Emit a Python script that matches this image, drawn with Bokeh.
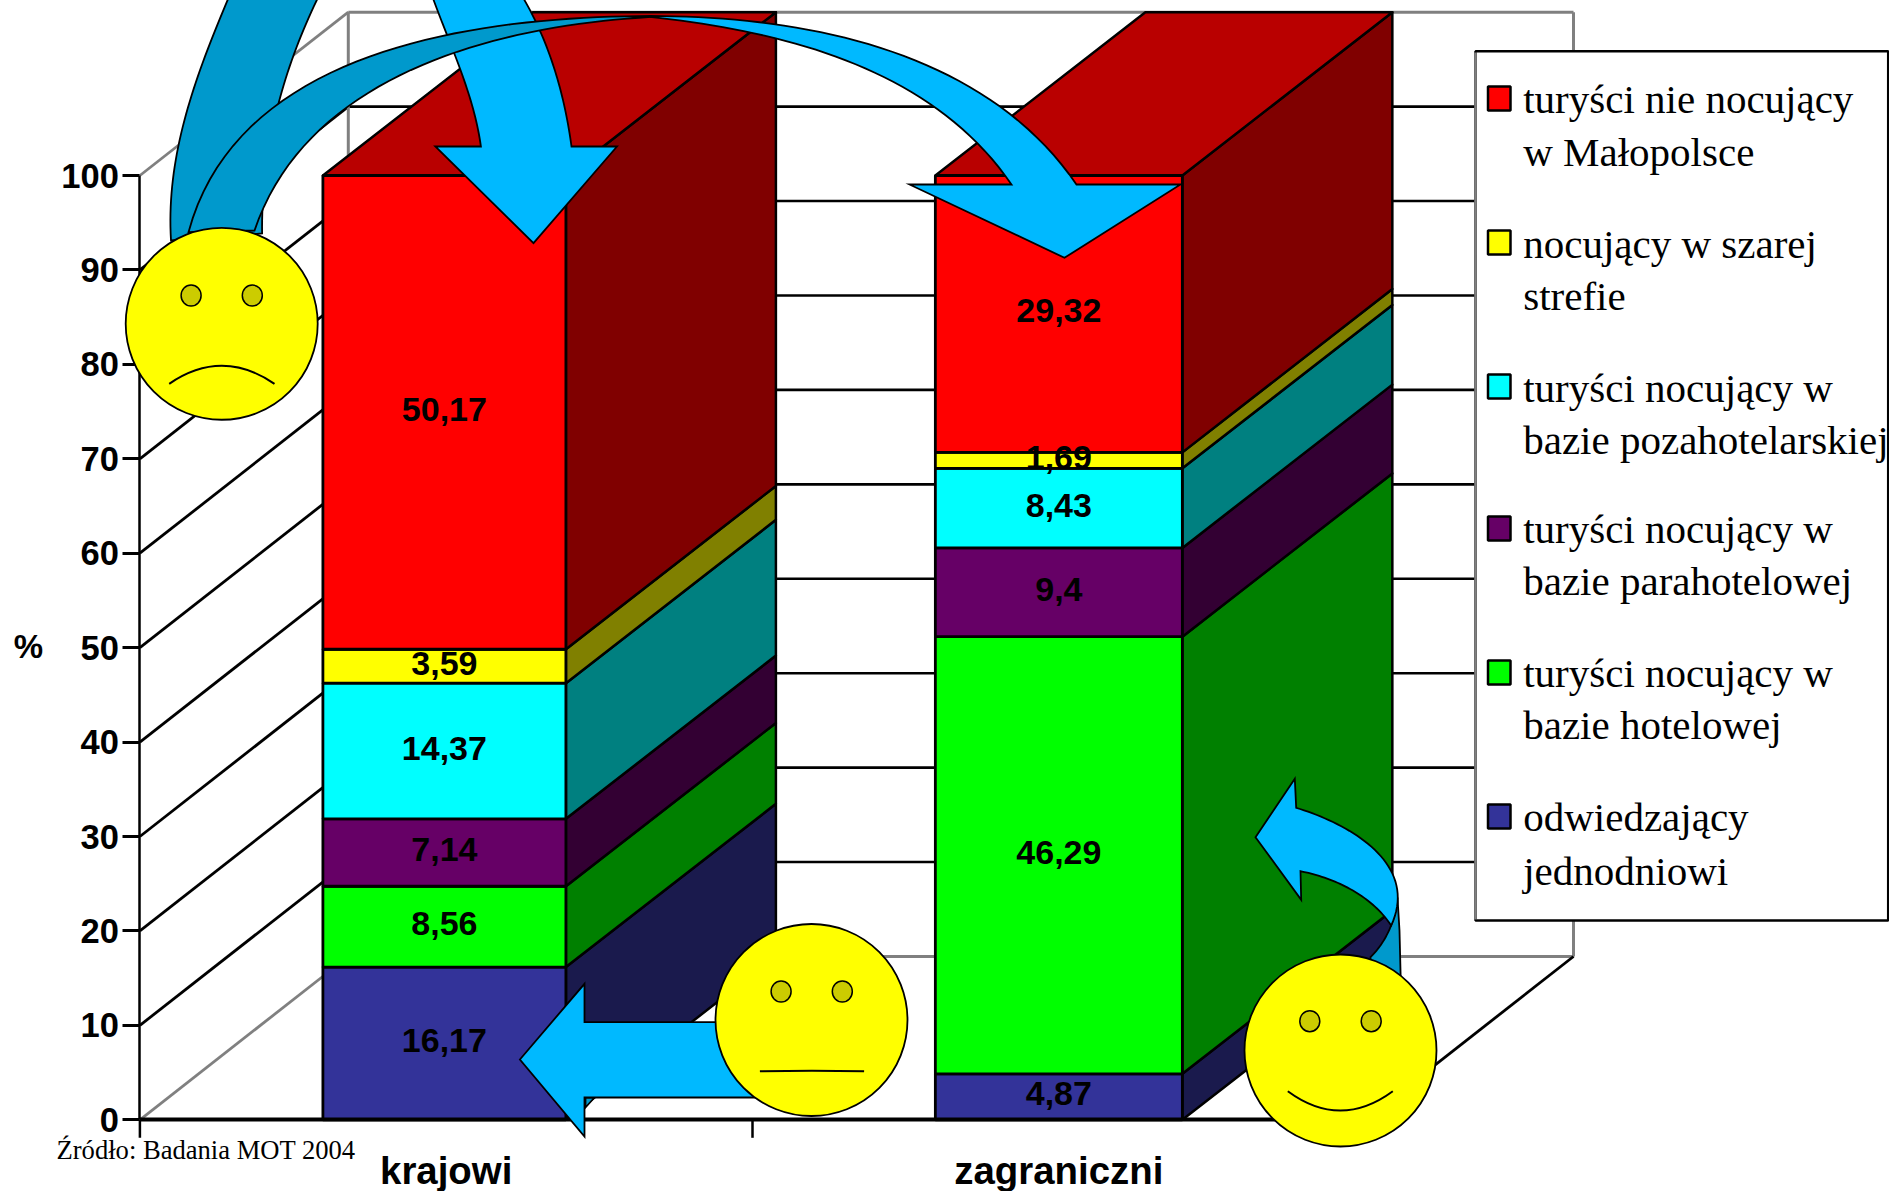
from bokeh.plotting import figure
from bokeh.embed import file_html
from bokeh.resources import INLINE
from bokeh.models import Range1d, LinearAxis, FixedTicker, NumeralTickFormatter
from bokeh.core.properties import value
import numpy as np

# ---------- data ----------
categories = ["krajowi", "zagraniczni"]
series_names = ["odwiedzający jednodniowi", "turyści nocujący w bazie hotelowej",
                "turyści nocujący w bazie parahotelowej", "turyści nocujący w bazie pozahotelarskiej",
                "nocujący w szarej strefie", "turyści nie nocujący w Małopolsce"]
krajowi = [16.17, 8.56, 7.14, 14.37, 3.59, 50.17]
zagraniczni = [4.87, 46.29, 9.4, 8.43, 1.69, 29.32]
labels_krajowi = ["16,17", "8,56", "7,14", "14,37", "3,59", "50,17"]
labels_zagraniczni = ["4,87", "46,29", "9,4", "8,43", "1,69", "29,32"]
front_colors = ["#333399", "#00FF00", "#660066", "#00FFFF", "#FFFF00", "#FF0000"]
side_colors = ["#1A1A4D", "#008000", "#330033", "#008080", "#808000", "#800000"]
top_color = "#B90000"
y_ticks = [0, 10, 20, 30, 40, 50, 60, 70, 80, 90, 100]
legend_lines = [
    ("turyści nie nocujący", "w Małopolsce"),
    ("nocujący w szarej", "strefie"),
    ("turyści nocujący w", "bazie pozahotelarskiej"),
    ("turyści nocujący w", "bazie parahotelowej"),
    ("turyści nocujący w", "bazie hotelowej"),
    ("odwiedzający", "jednodniowi"),
]
legend_colors = ["#FF0000", "#FFFF00", "#00FFFF", "#660066", "#00FF00", "#333399"]
source_text = "Źródło: Badania MOT 2004"

# ---------- layout ----------
W, H = 1889, 1191
X0, Y0, Y100 = 139.4, 1119.3, 175.0
CAT = 612.6
PY = (Y0 - Y100) / 100
DX, DY = 210 / CAT, 163.3 / PY       # depth of the oblique projection in data units
BACK_DX, BACK_DY = 208.4 / CAT, 163.3 / PY
centres = [(443.9 - X0) / CAT, (1058.35 - X0) / CAT]
bar_widths = [243 / CAT, 247 / CAT]

p = figure(width=W, height=H, output_backend="svg", toolbar_location=None,
           x_range=Range1d(-X0 / CAT, (W - X0) / CAT),
           y_range=Range1d(-(H - Y0) / PY, Y0 / PY),
           min_border=0, min_border_left=0, min_border_right=0, min_border_top=0, min_border_bottom=0,
           background_fill_color="white", border_fill_color="white", outline_line_color=None)
p.styles = {"position": "absolute", "left": "0px", "top": "0px"}
p.grid.visible = False
p.extra_x_ranges["px"] = Range1d(0, W)
p.extra_y_ranges["px"] = Range1d(H, 0)
PX = dict(x_range_name="px", y_range_name="px")

SANS = value("Liberation Sans")
SERIF = value("Liberation Serif")

# ---------- walls ----------
GRAY = "#808080"
for v in y_ticks:
    col = GRAY if v in (0, 100) else "black"
    p.line([0, BACK_DX], [v, v + BACK_DY], line_color=col, line_width=2.8)
    if v not in (0, 100):
        p.line([BACK_DX, 2 + BACK_DX], [v + BACK_DY] * 2, line_color=col, line_width=2.6)
p.line([BACK_DX, 2 + BACK_DX], [100 + BACK_DY] * 2, line_color=GRAY, line_width=3)
p.line([BACK_DX, 2 + BACK_DX], [BACK_DY] * 2, line_color=GRAY, line_width=3)
p.line([BACK_DX, BACK_DX], [BACK_DY, 100 + BACK_DY], line_color=GRAY, line_width=3)
p.line([2 + BACK_DX] * 2, [BACK_DY, 100 + BACK_DY], line_color=GRAY, line_width=3)
p.line([2, 2 + BACK_DX], [0, BACK_DY], line_color="black", line_width=2.8)

# ---------- bars ----------
for c, bw, vals, labs in zip(centres, bar_widths, [krajowi, zagraniczni], [labels_krajowi, labels_zagraniczni]):
    l, r = c - bw / 2, c + bw / 2
    tops = np.cumsum(vals)
    bots = tops - np.array(vals)
    p.patches([[r, r + DX, r + DX, r] for _ in vals],
              [[b, b + DY, t + DY, t] for b, t in zip(bots, tops)],
              fill_color=side_colors, line_color="black", line_width=2.5, line_join="round")
    t = tops[-1]
    p.patch([l, l + DX, r + DX, r], [t, t + DY, t + DY, t], fill_color=top_color,
            line_color="black", line_width=2.5, line_join="round")
    p.quad(left=l, right=r, bottom=bots, top=tops, fill_color=front_colors,
           line_color="black", line_width=2.8)
    p.text([c] * len(vals), (tops + bots) / 2, text=labs, text_font=SANS, text_font_style="bold",
           text_font_size="34px", text_align="center", text_baseline="middle", text_color="black",
           y_offset=-3)

# ---------- axes ----------
ax = p.yaxis[0]
ax.fixed_location = 0
ax.ticker = FixedTicker(ticks=y_ticks)
ax.formatter = NumeralTickFormatter(format="0")
ax.axis_line_color = "black"; ax.axis_line_width = 2.5
ax.major_tick_line_color = "black"; ax.major_tick_line_width = 3
ax.major_tick_in = 0; ax.major_tick_out = 17
ax.minor_tick_line_color = None
ax.major_label_standoff = 4
ax.major_label_text_font = "Liberation Sans"
ax.major_label_text_font_style = "bold"
ax.major_label_text_font_size = "34.5px"
ax.major_label_text_color = "black"
ax.bounds = (0, 100)

bx = p.xaxis[0]
bx.fixed_location = 0
bx.ticker = FixedTicker(ticks=[0.5, 1.5])
bx.major_label_overrides = {0.5: categories[0], 1.5: categories[1]}
bx.bounds = (0, 2)
bx.axis_line_color = "black"; bx.axis_line_width = 4
bx.major_tick_line_color = None
bx.major_tick_out = 0; bx.major_tick_in = 0
bx.minor_tick_line_color = None
bx.major_label_standoff = 29
bx.major_label_text_font = "Liberation Sans"
bx.major_label_text_font_style = "bold"
bx.major_label_text_font_size = "38.4px"
bx.major_label_text_color = "black"
# category separators on the axis
p.segment([0, 1, 2], [0, 0, 0], [0, 1, 2], [-18 / PY] * 3, line_color="black", line_width=2.5)

p.text([28], [646], text=["%"], text_font=SANS, text_font_style="bold", text_font_size="33px",
       text_align="center", text_baseline="middle", text_color="black", **PX)


def base_text(x, y, txt, size, font):
    # the renderer seats an alphabetic baseline about a third of an em low
    p.text(x, [v - 0.32 * size for v in y], text=txt, text_font=font, text_font_size=f"{size}px",
           text_align="left", text_baseline="alphabetic", text_color="black", **PX)


base_text([56], [1158], [source_text], 26.6, SERIF)

# ---------- legend ----------
p.quad(left=[1475], right=[1887.7], top=[50.7], bottom=[920], fill_color="white", line_color="black",
       line_width=2.5, **PX)
p.line([1475, 1475], [52, 919], line_color=GRAY, line_width=2.5, **PX)
sq_tops = [86, 230, 374, 516, 660, 804]
first_base = [111.7, 256.7, 401, 541.7, 686, 830]
second_base = [165, 309, 453, 594, 738, 883.3]
for st, col, (a, b), b1, b2 in zip(sq_tops, legend_colors, legend_lines, first_base, second_base):
    p.quad(left=[1487.5], right=[1510], top=[st], bottom=[st + 24], fill_color=col, line_color="black",
           line_width=2.5, **PX)
    base_text([1522.7, 1522.7], [b1, b2], [a, b], 41, SERIF)

# ---------- arrows and faces (drawing decoration in page pixels) ----------
LIGHT, DARK = "#00B9FF", "#0099CC"


def curve(pts, n=40):
    """Smooth cubic through the measured outline points, with its ends held."""
    pts = np.array(pts, dtype=float)
    d = np.r_[0, np.cumsum(np.hypot(*np.diff(pts, axis=0).T))]
    u = d / d[-1]
    B1, B2 = 3 * u * (1 - u) ** 2, 3 * u ** 2 * (1 - u)
    B0, B3 = (1 - u) ** 3, u ** 3
    rhs = pts - np.outer(B0, pts[0]) - np.outer(B3, pts[-1])
    # light pull toward the straight chord keeps short runs well behaved
    lam = 0.08
    a = np.vstack([np.c_[B1, B2], [[lam, 0], [0, lam]]])
    b = np.vstack([rhs, lam * (2 * pts[0] + pts[-1]) / 3, lam * (pts[0] + 2 * pts[-1]) / 3])
    ctrl, *_ = np.linalg.lstsq(a, b, rcond=None)
    t = np.linspace(0, 1, n)[:, None]
    out = (1 - t) ** 3 * pts[0] + 3 * t * (1 - t) ** 2 * ctrl[0] + 3 * t ** 2 * (1 - t) * ctrl[1] + t ** 3 * pts[-1]
    return [tuple(x) for x in out]


def shape(points, color):
    xs, ys = zip(*points)
    p.patch(list(xs), list(ys), fill_color=color, line_color="black", line_width=1.8,
            line_join="miter", level="annotation", **PX)


# arrow A
shape(curve([(170.5, 240), (178, 143), (227, 0), (232, -12)]) + curve([(322, -12), (318.7, 0), (292, 57), (276, 107), (263, 207), (261.6, 233)]), DARK)
shape(curve([(429, -12), (432.6, 0), (459.4, 66.7), (472.8, 110), (480.4, 146)]) +
      [(434.8, 146), (533, 242.7), (616.5, 146), (571, 146)] +
      curve([(571, 146), (559.8, 90), (542, 33), (521.9, 0), (517, -12)]), LIGHT)
# arrow B
shape(curve([(188, 231.7), (200.4, 186.7), (234, 133), (276.3, 106.7), (345.5, 70), (448, 33), (546, 18.3), (650, 15.5)]) +
      curve([(650, 16.5), (591, 20), (537.5, 30), (457, 51.7), (412.5, 70), (345.5, 106.7), (287.5, 160), (260.7, 206.7), (254, 230)]), DARK)
shape(curve([(650, 15.5), (778.8, 23), (926, 66.7), (1014, 113), (1076, 184)]) +
      [(1180, 184), (1064, 257.3), (909, 184), (1011, 184)] +
      curve([(1011, 184), (937.6, 106.7), (849.6, 63), (754, 31.7), (650, 16.5)]), LIGHT)
# arrow C
shape([(585, 1097), (594, 1097), (585, 1107)], DARK)
shape([(519.4, 1059), (584, 983.3), (584, 1021.7), (760, 1021.7), (760, 1097), (584, 1097), (584, 1136)], LIGHT)
# arrow D
shape(curve([(1370, 956.7), (1382, 942), (1390.7, 925), (1397, 897)]) + [(1399, 930), (1400.5, 990), (1370, 990)], DARK)
shape([(1255, 836.7), (1294.3, 778.3), (1295.7, 807.3)] +
      curve([(1295.7, 807.3), (1346.7, 830), (1386.7, 860), (1397, 896.7), (1390.7, 925)]) +
      curve([(1390.7, 925), (1383.3, 915), (1346.7, 886.7), (1300, 870.7)]) +
      [(1300.7, 899.3)], LIGHT)

faces_x = [221.2, 811, 1340]
faces_y = [323.3, 1019.5, 1050]
p.ellipse(faces_x, faces_y, width=192, height=192, fill_color="#FFFF00", line_color="black",
          line_width=1.8, level="annotation", **PX)
eyes_x = [190.6, 251.8, 780.6, 841.8, 1309.3, 1370.7]
eyes_y = [295, 295, 991, 991, 1020.7, 1020.7]
p.ellipse(eyes_x, eyes_y, width=20, height=21, fill_color="#CCCC00", line_color="black",
          line_width=1.5, level="annotation", **PX)
p.quadratic(x0=[168.7, 759.4, 1287.3], y0=[383.3, 1070.7, 1090.7],
            x1=[274, 863.6, 1392.3], y1=[383.3, 1070.7, 1090.7],
            cx=[221.3, 811.5, 1339.8], cy=[347.3, 1070.0, 1129.3],
            line_color="black", line_width=2, level="annotation", **PX)

open("out.html", "w").write(file_html(p, INLINE))
